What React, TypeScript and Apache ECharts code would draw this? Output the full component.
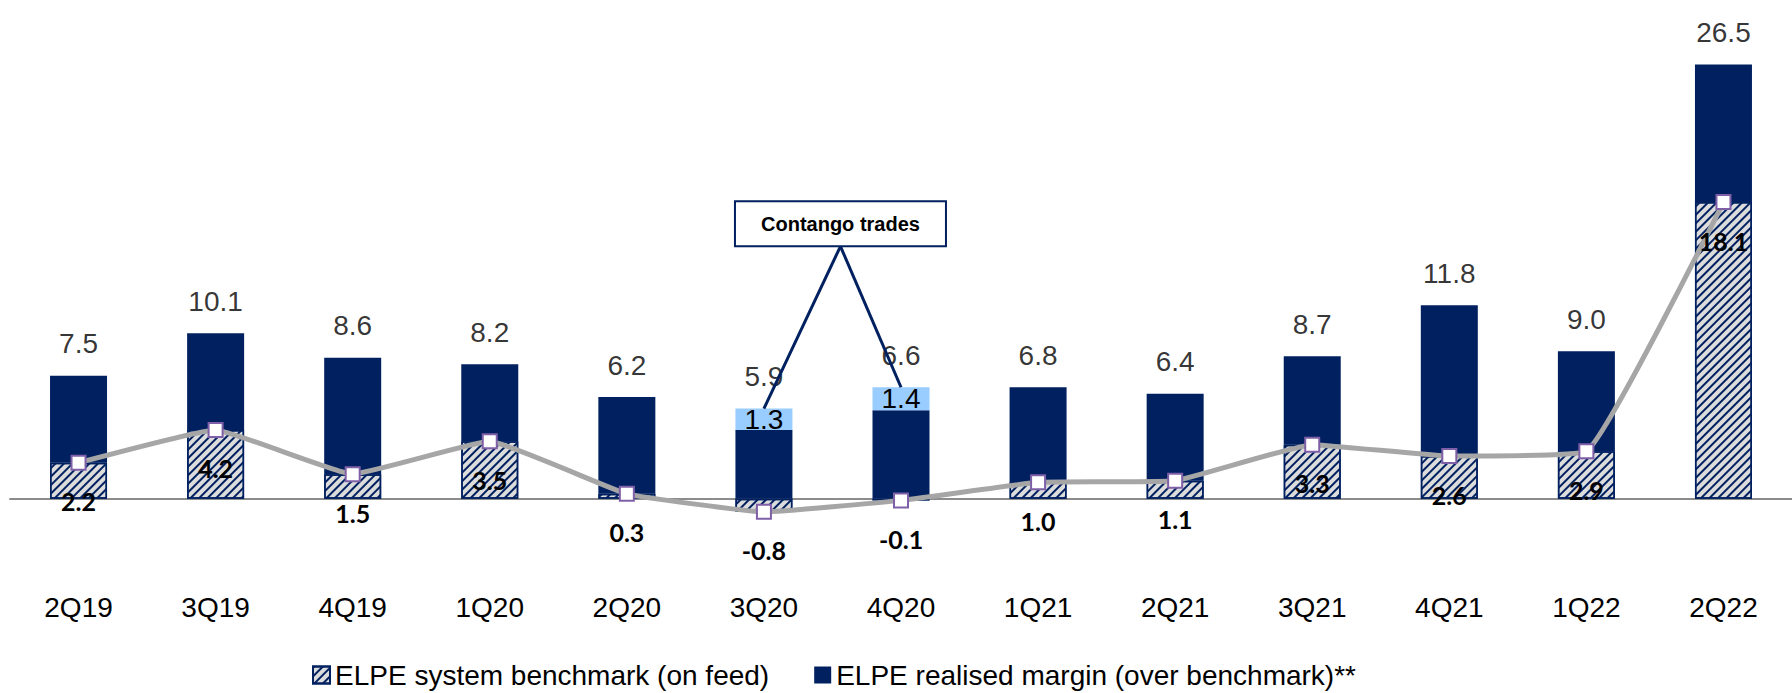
import React, { useEffect, useRef } from 'react';
import * as echarts from 'echarts';

const categories = ['2Q19', '3Q19', '4Q19', '1Q20', '2Q20', '3Q20', '4Q20', '1Q21', '2Q21', '3Q21', '4Q21', '1Q22', '2Q22'];
const totals = [7.5, 10.1, 8.6, 8.2, 6.2, 5.9, 6.6, 6.8, 6.4, 8.7, 11.8, 9.0, 26.5];
const benchmark = [2.2, 4.2, 1.5, 3.5, 0.3, -0.8, -0.1, 1.0, 1.1, 3.3, 2.6, 2.9, 18.1];
const realised = [5.3, 5.9, 7.1, 4.7, 5.9, 4.2, 5.4, 5.8, 5.3, 5.4, 9.2, 6.1, 8.4];
const contango: (number | null)[] = [null, null, null, null, null, 1.3, 1.4, null, null, null, null, null, null];

const BENCH = 'ELPE system benchmark (on feed)';
const REAL = 'ELPE realised margin (over benchmark)**';
const NAVY = '#002060';
const FONT = '"Liberation Sans", Arial, sans-serif';

export default function App() {
  const ref = useRef<HTMLDivElement>(null);

  useEffect(() => {
    if (!ref.current) return;
    const chart = echarts.init(ref.current, undefined, { renderer: 'svg' });
    const stackTop = categories.map((_, i) => Math.max(benchmark[i], 0) + realised[i] + (contango[i] ?? 0));

    chart.setOption({
      animation: false,
      grid: { left: 10, top: 39.8, width: 1795, height: 524.5, containLabel: false },
      legend: {
        data: [BENCH, REAL],
        left: 312,
        top: 661,
        padding: 0,
        itemWidth: 17,
        itemHeight: 17,
        itemGap: 45,
        icon: 'rect',
        textStyle: { fontSize: 28, fontFamily: FONT, color: '#000' },
      },
      xAxis: {
        type: 'category',
        data: categories,
        axisLine: { onZero: true, lineStyle: { color: '#8c8c8c', width: 2 } },
        axisTick: { alignWithLabel: true, length: 6, lineStyle: { color: '#8c8c8c', width: 1.5 } },
        axisLabel: { fontSize: 28, color: '#000', fontFamily: FONT, margin: 29, interval: 0 },
        splitLine: { show: false },
      },
      yAxis: { type: 'value', min: -4, max: 28, show: false, splitLine: { show: false } },
      series: [
        {
          name: BENCH,
          type: 'bar',
          stack: 's',
          barWidth: 57,
          data: benchmark,
          itemStyle: {
            color: '#DCDCDC',
            borderColor: NAVY,
            borderWidth: 1.5,
            decal: {
              symbol: 'rect',
              symbolSize: 1,
              color: NAVY,
              dashArrayX: [1, 0],
              dashArrayY: [1.6, 3.6],
              rotation: -Math.PI / 4,
            },
          },
        },
        {
          name: REAL,
          type: 'bar',
          stack: 's',
          barWidth: 57,
          data: realised,
          itemStyle: { color: NAVY },
        },
        {
          name: 'Contango',
          type: 'bar',
          stack: 's',
          barWidth: 57,
          data: contango,
          itemStyle: { color: '#99CCFF' },
          label: {
            show: true,
            position: 'inside',
            fontSize: 28,
            color: '#000',
            fontFamily: FONT,
            formatter: (p: any) => (p.value == null ? '' : Number(p.value).toFixed(1)),
          },
        },
        {
          name: 'benchLine',
          type: 'line',
          data: benchmark,
          smooth: 0.1,
          symbol: 'rect',
          symbolSize: 14,
          z: 5,
          itemStyle: { color: '#ffffff', borderColor: '#7F60A8', borderWidth: 2 },
          lineStyle: { color: '#A6A6A6', width: 5 },
          label: {
            show: true,
            position: 'bottom',
            distance: 18,
            fontSize: 25,
            fontWeight: 'bold',
            fontFamily: 'Lato, "Liberation Sans", sans-serif',
            color: '#000',
            formatter: (p: any) => Number(p.value).toFixed(1),
          },
        },
        {
          name: 'totals',
          type: 'scatter',
          data: stackTop,
          symbolSize: 0,
          z: 6,
          label: {
            show: true,
            position: 'top',
            distance: 18,
            fontSize: 28,
            color: '#000',
            fontFamily: FONT,
            formatter: (p: any) => totals[p.dataIndex].toFixed(1),
          },
        },
      ],
    });

    const p3 = chart.convertToPixel({ gridIndex: 0 }, [categories[5], stackTop[5]]) as number[];
    const p4 = chart.convertToPixel({ gridIndex: 0 }, [categories[6], stackTop[6]]) as number[];
    const yBottom = (chart.convertToPixel({ gridIndex: 0 }, [categories[5], 15.4]) as number[])[1];
    const cx = (p3[0] + p4[0]) / 2 + 8;
    const bw = 211;
    const bh = 45;

    chart.setOption({
      graphic: [
        {
          type: 'line',
          z: 100,
          shape: { x1: cx, y1: yBottom, x2: p3[0], y2: p3[1] },
          style: { stroke: NAVY, lineWidth: 3 },
        },
        {
          type: 'line',
          z: 100,
          shape: { x1: cx, y1: yBottom, x2: p4[0], y2: p4[1] },
          style: { stroke: NAVY, lineWidth: 3 },
        },
        {
          type: 'rect',
          z: 101,
          shape: { x: cx - bw / 2, y: yBottom - bh, width: bw, height: bh },
          style: { fill: '#ffffff', stroke: NAVY, lineWidth: 2 },
        },
        {
          type: 'text',
          z: 102,
          x: cx,
          y: yBottom - bh / 2,
          style: {
            text: 'Contango trades',
            fill: '#000',
            fontSize: 20,
            fontWeight: 'bold',
            fontFamily: FONT,
            align: 'center',
            verticalAlign: 'middle',
          },
        },
      ],
    });

    return () => chart.dispose();
  }, []);

  return (
    <div
      ref={ref}
      style={{ position: 'fixed', left: 0, top: 0, width: 1792, height: 693, background: '#fff' }}
    />
  );
}
